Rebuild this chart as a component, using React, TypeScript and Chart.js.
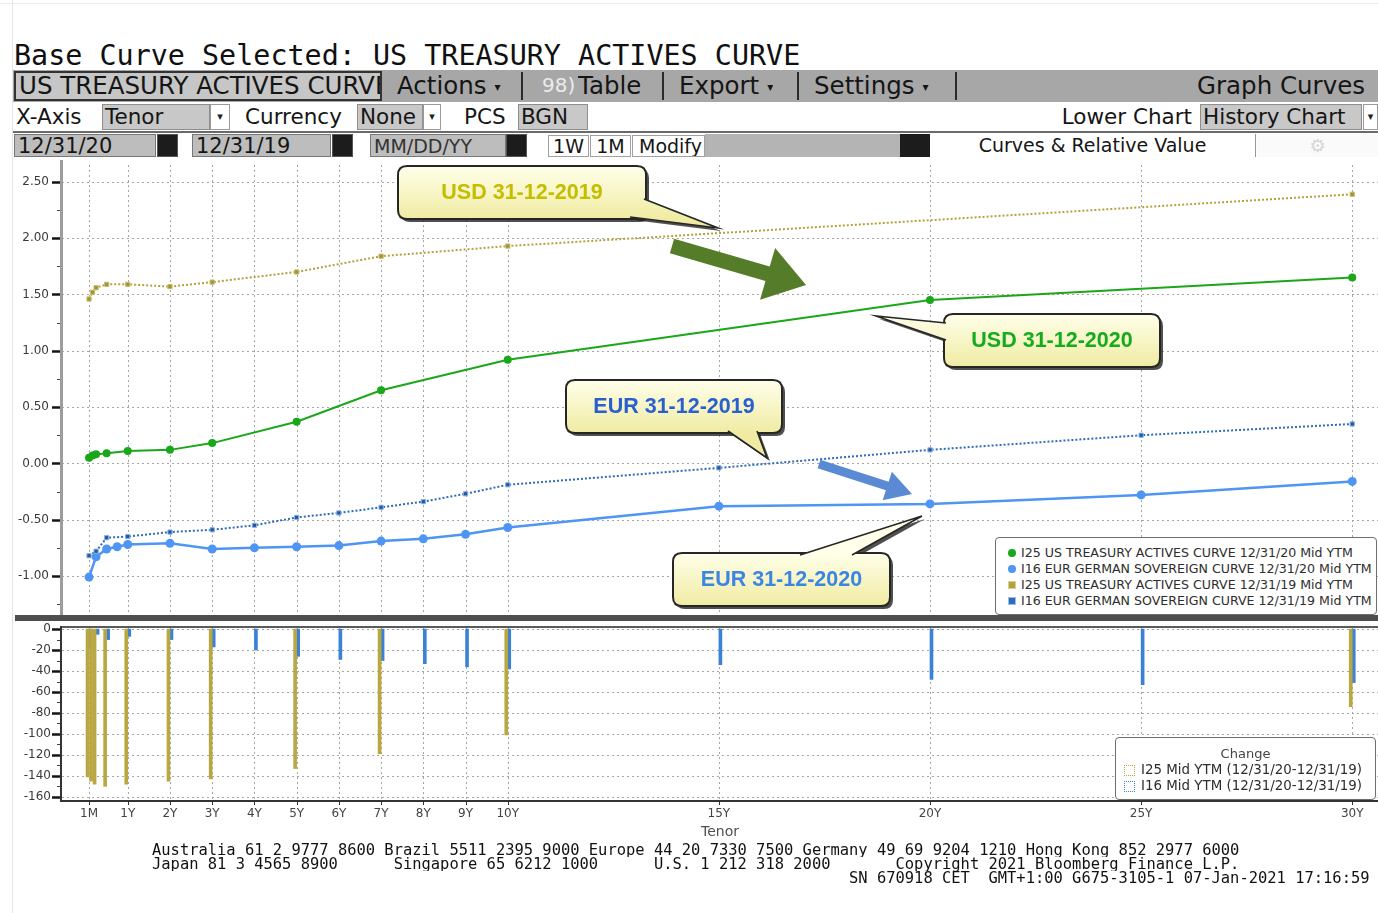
import React, { useEffect, useRef } from 'react';
import { Chart, registerables } from 'chart.js';

Chart.register(...registerables);

// ---------- data ----------
const M1 = 1 / 12, M2 = 2 / 12, M3 = 3 / 12, M6 = 6 / 12, M9 = 9 / 12;

const usTenors2020 = [M1, M2, M3, M6, 1, 2, 3, 5, 7, 10, 20, 30];
const usYields2020 = [0.05, 0.07, 0.08, 0.09, 0.11, 0.12, 0.18, 0.37, 0.65, 0.92, 1.45, 1.65];
const usTenors2019 = [M1, M2, M3, M6, 1, 2, 3, 5, 7, 10, 30];
const usYields2019 = [1.46, 1.52, 1.56, 1.59, 1.59, 1.57, 1.61, 1.70, 1.84, 1.93, 2.39];
const eurTenors2020 = [M1, M3, M6, M9, 1, 2, 3, 4, 5, 6, 7, 8, 9, 10, 15, 20, 25, 30];
const eurYields2020 = [-1.01, -0.83, -0.76, -0.74, -0.72, -0.71, -0.76, -0.75, -0.74, -0.73, -0.69, -0.67, -0.63, -0.57, -0.38, -0.36, -0.28, -0.16];
const eurTenors2019 = [M1, M3, M6, 1, 2, 3, 4, 5, 6, 7, 8, 9, 10, 15, 20, 25, 30];
const eurYields2019 = [-0.82, -0.78, -0.66, -0.65, -0.61, -0.59, -0.55, -0.48, -0.44, -0.39, -0.34, -0.27, -0.19, -0.04, 0.12, 0.25, 0.35];

const tenorTickValues = [M1, 1, 2, 3, 4, 5, 6, 7, 8, 9, 10, 15, 20, 25, 30];
const tenorTickLabels = ['1M', '1Y', '2Y', '3Y', '4Y', '5Y', '6Y', '7Y', '8Y', '9Y', '10Y', '15Y', '20Y', '25Y', '30Y'];
const upperYTicks = [-1.25, -1, -0.75, -0.5, -0.25, 0, 0.25, 0.5, 0.75, 1, 1.25, 1.5, 1.75, 2, 2.25, 2.5];
const lowerYTicks = [-160, -150, -140, -130, -120, -110, -100, -90, -80, -70, -60, -50, -40, -30, -20, -10, 0];

const seriesLabels = [
  'I25 US TREASURY ACTIVES CURVE 12/31/20 Mid YTM',
  'I16 EUR GERMAN SOVEREIGN CURVE 12/31/20 Mid YTM',
  'I25 US TREASURY ACTIVES CURVE 12/31/19 Mid YTM',
  'I16 EUR GERMAN SOVEREIGN CURVE 12/31/19 Mid YTM',
];
const changeLabels = ['I25 Mid YTM (12/31/20-12/31/19)', 'I16 Mid YTM (12/31/20-12/31/19)'];

// ---------- styles ----------
const C_US20 = '#1aa71a';
const C_EUR20 = '#4f95f3';
const C_US19 = '#b1a23a';
const C_EUR19 = '#2d6bbd';
const C_BAR_US = '#b9a842';
const C_BAR_EUR = '#3b82d4';
const seriesColors = [C_US20, C_EUR20, C_US19, C_EUR19];
const changeColors = [C_BAR_US, C_BAR_EUR];

const UI = '"DejaVu Sans", "Noto Sans", sans-serif';
const MONO = '"DejaVu Sans Mono", "Liberation Mono", monospace';

const X_MIN = -0.557;
const X_MAX = 30.61;
const UPPER_TOP = 160;

const callouts = [
  { text: 'USD 31-12-2019', color: '#c4bd00', box: [398, 166, 248, 53], tail: [[644, 199], [630, 217], [718, 228]] },
  { text: 'USD 31-12-2020', color: '#14ac1e', box: [944, 314, 216, 53], tail: [[946, 323], [946, 340], [876, 316]] },
  { text: 'EUR 31-12-2019', color: '#2a5fcf', box: [566, 380, 216, 53], tail: [[728, 431], [757, 431], [767, 458]] },
  { text: 'EUR 31-12-2020', color: '#3b85e3', box: [673, 553, 217, 53], tail: [[800, 555], [852, 555], [922, 516]] },
];
const arrows = [
  { from: [672, 246], to: [806, 285], shaft: 15, head: 54, headLen: 40, color: '#557c29' },
  { from: [819, 464], to: [912, 494], shaft: 9, head: 30, headLen: 26, color: '#5b8ad4' },
];

const mk = (t: number[], v: number[]) => t.map((x, i) => ({ x, y: v[i] }));
const changes = (t20: number[], y20: number[], t19: number[], y19: number[]) => {
  const out: { x: number; y: number }[] = [];
  t20.forEach((t, i) => {
    const j = t19.indexOf(t);
    if (j >= 0) out.push({ x: t, y: Math.round((y20[i] - y19[j]) * 100) });
  });
  return out;
};

function roundRect(ctx: CanvasRenderingContext2D, x: number, y: number, w: number, h: number, r: number) {
  ctx.beginPath();
  ctx.moveTo(x + r, y);
  ctx.lineTo(x + w - r, y);
  ctx.quadraticCurveTo(x + w, y, x + w, y + r);
  ctx.lineTo(x + w, y + h - r);
  ctx.quadraticCurveTo(x + w, y + h, x + w - r, y + h);
  ctx.lineTo(x + r, y + h);
  ctx.quadraticCurveTo(x, y + h, x, y + h - r);
  ctx.lineTo(x, y + r);
  ctx.quadraticCurveTo(x, y, x + r, y);
  ctx.closePath();
}

function drawCallout(ctx: CanvasRenderingContext2D, c: any, oy: number) {
  const [bx, by0, bw, bh] = c.box;
  const by = by0 - oy;
  const tl = c.tail.map((p: number[]) => [p[0], p[1] - oy]);
  ctx.save();
  ctx.fillStyle = 'rgba(35,35,35,0.8)';
  roundRect(ctx, bx + 3, by + 3, bw, bh, 9);
  ctx.fill();
  ctx.beginPath();
  ctx.moveTo(tl[0][0] + 3, tl[0][1] + 3);
  ctx.lineTo(tl[2][0] + 3, tl[2][1] + 3);
  ctx.lineTo(tl[1][0] + 3, tl[1][1] + 3);
  ctx.closePath();
  ctx.fill();
  const g = ctx.createLinearGradient(0, by, 0, by + bh);
  g.addColorStop(0, '#ffffea');
  g.addColorStop(1, '#f0eba2');
  roundRect(ctx, bx, by, bw, bh, 9);
  ctx.fillStyle = g;
  ctx.fill();
  ctx.lineWidth = 2;
  ctx.strokeStyle = '#262626';
  ctx.stroke();
  ctx.beginPath();
  ctx.moveTo(tl[0][0], tl[0][1]);
  ctx.lineTo(tl[2][0], tl[2][1]);
  ctx.lineTo(tl[1][0], tl[1][1]);
  ctx.closePath();
  ctx.fillStyle = g;
  ctx.fill();
  ctx.beginPath();
  ctx.moveTo(tl[0][0], tl[0][1]);
  ctx.lineTo(tl[2][0], tl[2][1]);
  ctx.lineTo(tl[1][0], tl[1][1]);
  ctx.lineWidth = 1.6;
  ctx.stroke();
  ctx.fillStyle = c.color;
  ctx.font = 'bold 21.5px "Liberation Sans", Arial, sans-serif';
  ctx.textAlign = 'center';
  ctx.textBaseline = 'middle';
  ctx.fillText(c.text, bx + bw / 2, by + bh / 2 + 1);
  ctx.restore();
}

function drawArrow(ctx: CanvasRenderingContext2D, a: any, oy: number) {
  const fx = a.from[0], fy = a.from[1] - oy, tx = a.to[0], ty = a.to[1] - oy;
  const dx = tx - fx, dy = ty - fy;
  const len = Math.hypot(dx, dy);
  const ux = dx / len, uy = dy / len, nx = -uy, ny = ux;
  const hx = tx - ux * a.headLen, hy = ty - uy * a.headLen;
  const s = a.shaft / 2, h = a.head / 2;
  ctx.save();
  ctx.fillStyle = a.color;
  ctx.beginPath();
  ctx.moveTo(fx + nx * s, fy + ny * s);
  ctx.lineTo(hx + nx * s, hy + ny * s);
  ctx.lineTo(hx + nx * h, hy + ny * h);
  ctx.lineTo(tx, ty);
  ctx.lineTo(hx - nx * h, hy - ny * h);
  ctx.lineTo(hx - nx * s, hy - ny * s);
  ctx.lineTo(fx - nx * s, fy - ny * s);
  ctx.closePath();
  ctx.fill();
  ctx.restore();
}

function makeGridPlugin(cfg: { isMajor: (v: number) => boolean; upper: boolean }) {
  return {
    id: 'customGrid',
    beforeDatasetsDraw(chart: any) {
      const { ctx, chartArea: a, scales } = chart;
      const x = scales.x, y = scales.y;
      ctx.save();
      ctx.strokeStyle = '#a6a6a6';
      ctx.lineWidth = 1;
      ctx.setLineDash([2, 3]);
      x.ticks.forEach((t: any) => {
        const px = Math.round(x.getPixelForValue(t.value)) + 0.5;
        ctx.beginPath();
        ctx.moveTo(px, a.top);
        ctx.lineTo(px, a.bottom);
        ctx.stroke();
      });
      y.ticks.forEach((t: any) => {
        if (!cfg.isMajor(t.value)) return;
        const py = Math.round(y.getPixelForValue(t.value)) + 0.5;
        ctx.beginPath();
        ctx.moveTo(a.left, py);
        ctx.lineTo(a.right, py);
        ctx.stroke();
      });
      ctx.restore();
    },
    afterDraw(chart: any) {
      const { ctx, chartArea: a, scales } = chart;
      const x = scales.x, y = scales.y;
      ctx.save();
      if (cfg.upper) {
        ctx.fillStyle = '#9c9c9c';
        ctx.fillRect(a.left - 2, 0, 3, chart.height);
      } else {
        ctx.fillStyle = '#5a5a5a';
        ctx.fillRect(a.left, a.top - 1, chart.width - a.left, 2);
        ctx.fillStyle = '#333';
        ctx.fillRect(a.left - 2, a.top - 1, 2, a.bottom - a.top + 2);
        ctx.fillRect(a.left - 2, a.bottom - 1, a.right - a.left + 2, 2);
        ctx.strokeStyle = '#333';
        ctx.lineWidth = 1;
        x.ticks.forEach((t: any) => {
          const px = Math.round(x.getPixelForValue(t.value)) + 0.5;
          ctx.beginPath();
          ctx.moveTo(px, a.bottom);
          ctx.lineTo(px, a.bottom + 4);
          ctx.stroke();
        });
      }
      y.ticks.forEach((t: any) => {
        const py = Math.round(y.getPixelForValue(t.value)) + 0.5;
        const major = cfg.isMajor(t.value);
        ctx.strokeStyle = major ? '#151515' : '#444';
        ctx.lineWidth = major ? 2.5 : 1;
        ctx.beginPath();
        ctx.moveTo(a.left - (major ? 10 : 5), py);
        ctx.lineTo(a.left - 2, py);
        ctx.stroke();
      });
      ctx.restore();
      if (cfg.upper) {
        arrows.forEach((ar) => drawArrow(ctx, ar, UPPER_TOP));
        callouts.forEach((c) => drawCallout(ctx, c, UPPER_TOP));
      }
    },
  };
}

const isMajorUpper = (v: number) => Math.abs(v * 2 - Math.round(v * 2)) < 1e-9;
const isMajorLower = (v: number) => Math.round(v) % 20 === 0;

const tenorX = (showLabels: boolean) => ({
  type: 'linear' as const,
  min: X_MIN,
  max: X_MAX,
  offset: false,
  afterBuildTicks: (s: any) => {
    s.ticks = tenorTickValues.map((v) => ({ value: v }));
  },
  afterFit: (s: any) => {
    s.height = showLabels ? 40 : 0;
    s.paddingLeft = 0;
    s.paddingRight = 0;
  },
  grid: { display: false, drawTicks: false },
  border: { display: false },
  ticks: {
    display: showLabels,
    autoSkip: false,
    maxRotation: 0,
    padding: 6,
    color: '#444',
    font: { family: UI, size: 12 },
    callback: (_v: any, i: number) => tenorTickLabels[i],
  },
  title: {
    display: showLabels,
    text: 'Tenor',
    color: '#505050',
    font: { family: UI, size: 14 },
    padding: { top: 0, bottom: 0 },
  },
});

function UpperChart() {
  const ref = useRef<HTMLCanvasElement>(null);
  useEffect(() => {
    const chart = new Chart(ref.current as HTMLCanvasElement, {
      type: 'line',
      data: {
        datasets: [
          {
            label: seriesLabels[2], data: mk(usTenors2019, usYields2019),
            borderColor: C_US19, backgroundColor: '#a39430', borderWidth: 2, borderDash: [2, 2],
            pointStyle: 'rect', pointRadius: 3, pointBorderWidth: 1, pointBorderColor: '#c9bd70', tension: 0,
          },
          {
            label: seriesLabels[3], data: mk(eurTenors2019, eurYields2019),
            borderColor: C_EUR19, backgroundColor: '#1f5aa8', borderWidth: 2, borderDash: [2, 2],
            pointStyle: 'rect', pointRadius: 3, pointBorderWidth: 1, pointBorderColor: '#8fb3e0', tension: 0,
          },
          {
            label: seriesLabels[1], data: mk(eurTenors2020, eurYields2020),
            borderColor: C_EUR20, backgroundColor: C_EUR20, borderWidth: 2.5,
            pointRadius: 4.5, pointBorderWidth: 0, tension: 0,
          },
          {
            label: seriesLabels[0], data: mk(usTenors2020, usYields2020),
            borderColor: C_US20, backgroundColor: C_US20, borderWidth: 2,
            pointRadius: 4, pointBorderWidth: 0, tension: 0,
          },
        ],
      },
      options: {
        animation: false,
        responsive: false,
        maintainAspectRatio: false,
        events: [],
        layout: { autoPadding: false, padding: { top: 5, bottom: 3, left: 0, right: 0 } },
        plugins: { legend: { display: false }, tooltip: { enabled: false } },
        scales: {
          x: tenorX(false) as any,
          y: {
            type: 'linear',
            min: -1.32,
            max: 2.65,
            afterBuildTicks: (s: any) => {
              s.ticks = upperYTicks.map((v) => ({ value: v }));
            },
            afterFit: (s: any) => {
              s.width = 62;
              s.paddingTop = 0;
              s.paddingBottom = 0;
            },
            grid: { display: false, drawTicks: false },
            border: { display: false },
            ticks: {
              autoSkip: false,
              padding: 13,
              color: '#3a3a3a',
              font: { family: UI, size: 12 },
              callback: (v: any) => (isMajorUpper(Number(v)) ? Number(v).toFixed(2) : ''),
            },
          } as any,
        },
      } as any,
      plugins: [makeGridPlugin({ isMajor: isMajorUpper, upper: true }) as any],
    });
    return () => chart.destroy();
  }, []);
  return (
    <canvas ref={ref} width={1378} height={455}
      style={{ position: 'absolute', left: 0, top: UPPER_TOP, width: 1378, height: 455 }} />
  );
}

function LowerChart() {
  const ref = useRef<HTMLCanvasElement>(null);
  useEffect(() => {
    const chart = new Chart(ref.current as HTMLCanvasElement, {
      type: 'bar',
      data: {
        datasets: [
          {
            label: changeLabels[0],
            data: changes(usTenors2020, usYields2020, usTenors2019, usYields2019),
            backgroundColor: C_BAR_US, borderWidth: 0, barThickness: 3,
          },
          {
            label: changeLabels[1],
            data: changes(eurTenors2020, eurYields2020, eurTenors2019, eurYields2019),
            backgroundColor: C_BAR_EUR, borderWidth: 0, barThickness: 3,
          },
        ],
      },
      options: {
        animation: false,
        responsive: false,
        maintainAspectRatio: false,
        events: [],
        layout: { autoPadding: false, padding: { top: 6, bottom: 4, left: 0, right: 0 } },
        plugins: { legend: { display: false }, tooltip: { enabled: false } },
        scales: {
          x: tenorX(true) as any,
          y: {
            type: 'linear',
            min: -164,
            max: 2,
            afterBuildTicks: (s: any) => {
              s.ticks = lowerYTicks.map((v) => ({ value: v }));
            },
            afterFit: (s: any) => {
              s.width = 62;
              s.paddingTop = 0;
              s.paddingBottom = 0;
            },
            grid: { display: false, drawTicks: false },
            border: { display: false },
            ticks: {
              autoSkip: false,
              padding: 11,
              color: '#3a3a3a',
              font: { family: UI, size: 12 },
              callback: (v: any) => (isMajorLower(Number(v)) ? String(Number(v)) : ''),
            },
          } as any,
        },
      } as any,
      plugins: [makeGridPlugin({ isMajor: isMajorLower, upper: false }) as any],
    });
    return () => chart.destroy();
  }, []);
  return (
    <canvas ref={ref} width={1378} height={224}
      style={{ position: 'absolute', left: 0, top: 621, width: 1378, height: 224 }} />
  );
}

type AbsProps = { l?: number; t: number; w?: number; h?: number; style?: React.CSSProperties; children?: React.ReactNode };
function Abs(p: AbsProps) {
  return (
    <div style={{ position: 'absolute', left: p.l, top: p.t, width: p.w, height: p.h, boxSizing: 'border-box', whiteSpace: 'nowrap', overflow: 'hidden', ...p.style }}>
      {p.children}
    </div>
  );
}

const caret = <span style={{ fontSize: 12, verticalAlign: 'middle', marginLeft: 8 }}>▾</span>;

function Header() {
  const r1: React.CSSProperties = { font: '24.5px ' + UI, lineHeight: '31px', color: '#151515' };
  const r2: React.CSSProperties = { font: '21.5px ' + UI, lineHeight: '27px', color: '#151515' };
  const r3: React.CSSProperties = { font: '19px ' + UI, lineHeight: '24px', color: '#151515' };
  const r3d: React.CSSProperties = { font: '21px ' + UI, lineHeight: '24px', color: '#151515' };
  const dd = (l: number, w: number, t: number, h: number) => (
    <Abs l={l} t={t} w={w} h={h} style={{ background: '#fff', border: '1px solid #9a9a9a', font: '11px ' + UI, lineHeight: h - 2 + 'px', textAlign: 'center', color: '#222' }}>▾</Abs>
  );
  const darkBtn = (l: number, w: number) => <Abs l={l} t={134} w={w} h={23} style={{ background: '#1c1c1c', border: '1px solid #555' }} />;
  return (
    <>
      <Abs l={14} t={41} style={{ font: '28.4px ' + MONO, lineHeight: '30px', color: '#101010' }}>Base Curve Selected: US TREASURY ACTIVES CURVE</Abs>
      <Abs l={13} t={70} w={1365} h={32} style={{ background: '#a7a7a7' }} />
      <Abs l={14} t={71} w={368} h={30} style={{ ...r1, background: '#c6c6c6', border: '2px solid #333', paddingLeft: 3, lineHeight: '26px' }}>US TREASURY ACTIVES CURVE</Abs>
      <Abs l={397} t={70} h={32} style={r1}>Actions{caret}</Abs>
      <Abs l={521} t={72} w={2} h={28} style={{ background: '#2a2a2a' }} />
      <Abs l={542} t={70} h={32} style={{ ...r1, color: '#ececec', fontSize: 20 }}>98)</Abs>
      <Abs l={578} t={70} h={32} style={r1}>Table</Abs>
      <Abs l={662} t={72} w={2} h={28} style={{ background: '#2a2a2a' }} />
      <Abs l={679} t={70} h={32} style={r1}>Export{caret}</Abs>
      <Abs l={797} t={72} w={2} h={28} style={{ background: '#2a2a2a' }} />
      <Abs l={814} t={70} h={32} style={r1}>Settings{caret}</Abs>
      <Abs l={955} t={72} w={2} h={28} style={{ background: '#2a2a2a' }} />
      <Abs t={70} h={32} style={{ ...r1, right: 13, textAlign: 'right' }}>Graph Curves</Abs>
      <Abs l={16} t={103} h={28} style={r2}>X-Axis</Abs>
      <Abs l={102} t={104} w={108} h={26} style={{ ...r2, lineHeight: '24px', background: '#c8c8c8', border: '1px solid #8e8e8e', paddingLeft: 2 }}>Tenor</Abs>
      {dd(210, 20, 104, 26)}
      <Abs l={245} t={103} h={28} style={r2}>Currency</Abs>
      <Abs l={357} t={104} w={66} h={26} style={{ ...r2, lineHeight: '24px', background: '#c8c8c8', border: '1px solid #8e8e8e', paddingLeft: 2 }}>None</Abs>
      {dd(423, 18, 104, 26)}
      <Abs l={464} t={103} h={28} style={r2}>PCS</Abs>
      <Abs l={518} t={104} w={70} h={26} style={{ ...r2, lineHeight: '24px', background: '#c8c8c8', border: '1px solid #8e8e8e', paddingLeft: 2 }}>BGN</Abs>
      <Abs t={103} h={28} style={{ ...r2, right: 1378 - 1192, textAlign: 'right' }}>Lower Chart</Abs>
      <Abs l={1200} t={104} w={162} h={26} style={{ ...r2, lineHeight: '24px', background: '#c8c8c8', border: '1px solid #8e8e8e', paddingLeft: 2 }}>History Chart</Abs>
      {dd(1363, 15, 104, 26)}
      <Abs l={13} t={131} w={1365} h={2} style={{ background: '#6a6a6a' }} />
      <Abs l={14} t={134} w={142} h={23} style={{ ...r3d, lineHeight: '23px', background: '#bdbdbd', border: '1px solid #777', paddingLeft: 3 }}>12/31/20</Abs>
      {darkBtn(157, 21)}
      <Abs l={192} t={134} w={139} h={23} style={{ ...r3d, lineHeight: '23px', background: '#bdbdbd', border: '1px solid #777', paddingLeft: 3 }}>12/31/19</Abs>
      {darkBtn(332, 21)}
      <Abs l={370} t={134} w={136} h={23} style={{ ...r3, lineHeight: '23px', background: '#bdbdbd', border: '1px solid #777', paddingLeft: 3, color: '#333' }}>MM/DD/YY</Abs>
      {darkBtn(506, 21)}
      <Abs l={548} t={135} w={41} h={22} style={{ ...r3, lineHeight: '21px', background: '#fff', border: '1px solid #a0a0a0', textAlign: 'center' }}>1W</Abs>
      <Abs l={590} t={135} w={41} h={22} style={{ ...r3, lineHeight: '21px', background: '#fff', border: '1px solid #a0a0a0', textAlign: 'center' }}>1M</Abs>
      <Abs l={632} t={135} w={73} h={22} style={{ ...r3, lineHeight: '21px', background: '#fff', border: '1px solid #a0a0a0', paddingLeft: 6 }}>Modify</Abs>
      <Abs l={705} t={134} w={195} h={23} style={{ background: '#b4b4b4' }} />
      <Abs l={900} t={134} w={30} h={23} style={{ background: '#1c1c1c' }} />
      <Abs l={930} t={134} w={326} h={23} style={{ ...r3, lineHeight: '23px', background: '#fff', borderRight: '1px solid #999', textAlign: 'center' }}>Curves &amp; Relative Value</Abs>
      <Abs l={1257} t={134} w={121} h={23} style={{ background: '#fafafa', textAlign: 'center', font: '18px ' + UI, lineHeight: '23px', color: '#d4d4d4' }}>⚙</Abs>
    </>
  );
}

function Legends() {
  const lf: React.CSSProperties = { font: '12.6px ' + UI, color: '#2e2e2e', lineHeight: '16px' };
  const markers = [
    <span style={{ display: 'inline-block', width: 8, height: 8, borderRadius: 4, background: seriesColors[0] }} />,
    <span style={{ display: 'inline-block', width: 8, height: 8, borderRadius: 4, background: seriesColors[1] }} />,
    <span style={{ display: 'inline-block', width: 6, height: 6, background: seriesColors[2], outline: '1px solid #d8cf90' }} />,
    <span style={{ display: 'inline-block', width: 6, height: 6, background: seriesColors[3], outline: '1px solid #9dbde6' }} />,
  ];
  return (
    <>
      <Abs l={995} t={537} w={382} h={78} style={{ background: '#fff', border: '1px solid #6e6e6e', borderRadius: 4 }}>
        {seriesLabels.map((s, i) => (
          <div key={s} style={{ position: 'absolute', left: 0, top: 7 + i * 16, height: 16, width: 380, ...lf }}>
            <div style={{ position: 'absolute', left: 11, top: 0, width: 10, height: 16, display: 'flex', alignItems: 'center', justifyContent: 'center' }}>{markers[i]}</div>
            <div style={{ position: 'absolute', left: 25, top: 0 }}>{s}</div>
          </div>
        ))}
      </Abs>
      <Abs l={1115} t={737} w={261} h={63} style={{ background: '#fff', border: '1px solid #6e6e6e', borderRadius: 4 }}>
        <div style={{ position: 'absolute', left: 0, top: 8, width: 259, textAlign: 'center', font: '13px ' + UI, color: '#444', lineHeight: '16px' }}>Change</div>
        {changeLabels.map((s, i) => (
          <div key={s} style={{ position: 'absolute', left: 0, top: 24 + i * 16, height: 16, width: 259, font: '13.4px ' + UI, color: '#2e2e2e', lineHeight: '16px' }}>
            <span style={{ position: 'absolute', left: 8, top: 3, width: 11, height: 11, boxSizing: 'border-box', border: '1px dotted ' + changeColors[i] }} />
            <span style={{ position: 'absolute', left: 25, top: 0 }}>{s}</span>
          </div>
        ))}
      </Abs>
    </>
  );
}

function Footer() {
  const f: React.CSSProperties = { font: '15.45px ' + MONO, lineHeight: '14px', color: '#111', whiteSpace: 'pre' };
  return (
    <>
      <Abs l={152} t={843} style={f}>Australia 61 2 9777 8600 Brazil 5511 2395 9000 Europe 44 20 7330 7500 Germany 49 69 9204 1210 Hong Kong 852 2977 6000</Abs>
      <Abs l={152} t={857} style={f}>{'Japan 81 3 4565 8900      Singapore 65 6212 1000      U.S. 1 212 318 2000       Copyright 2021 Bloomberg Finance L.P.'}</Abs>
      <Abs l={152} t={871} style={f}>{' '.repeat(75) + 'SN 670918 CET  GMT+1:00 G675-3105-1 07-Jan-2021 17:16:59'}</Abs>
    </>
  );
}

export default function App() {
  useEffect(() => {
    document.body.style.margin = '0';
  }, []);
  return (
    <div style={{ position: 'absolute', left: 0, top: 0, width: 1378, height: 913, background: '#fff', overflow: 'hidden' }}>
      <Abs l={0} t={3} w={1378} h={1} style={{ background: '#ececec' }} />
      <Abs l={12} t={0} w={1} h={913} style={{ background: '#e4e4e4' }} />
      <Header />
      <UpperChart />
      <Abs l={15} t={615} w={1363} h={6} style={{ background: '#4e4e4e' }} />
      <LowerChart />
      <Legends />
      <Footer />
    </div>
  );
}
